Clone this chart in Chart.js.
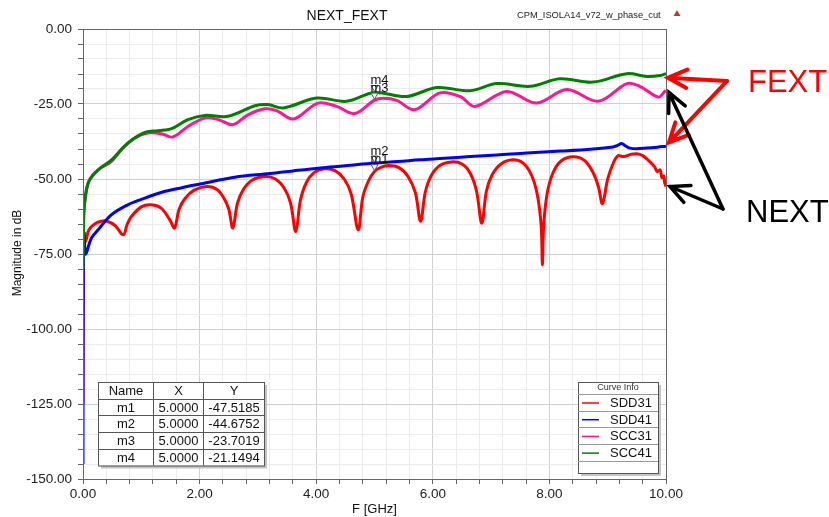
<!DOCTYPE html>
<html>
<head>
<meta charset="utf-8">
<script src="https://cdn.jsdelivr.net/npm/chart.js@4"></script>
<style>
  html, body { margin: 0; padding: 0; background: #fff; }
</style>
</head>
<body>
<canvas id="chart" width="829" height="517"></canvas>
<script>
// SDD31 (NEXT, red)
const sdd31F  = [0, 0.01, 0.05, 0.1, 0.2, 0.31, 0.4, 0.55, 0.69, 0.76, 0.83, 1.0, 1.17, 1.34, 1.49, 1.57, 1.65, 1.75, 1.9, 2.12, 2.3, 2.42, 2.5, 2.57, 2.65, 2.75, 2.9, 3.12, 3.3, 3.45, 3.56, 3.65, 3.73, 3.83, 3.97, 4.15, 4.33, 4.48, 4.6, 4.72, 4.8, 4.9, 5.0, 5.1, 5.24, 5.42, 5.57, 5.7, 5.79, 5.87, 5.97, 6.12, 6.32, 6.5, 6.64, 6.75, 6.84, 6.92, 7.02, 7.17, 7.37, 7.55, 7.7, 7.8, 7.86, 7.88, 7.9, 7.96, 8.06, 8.2, 8.41, 8.6, 8.74, 8.84, 8.91, 9.0, 9.1, 9.18, 9.25, 9.32, 9.4, 9.5, 9.6, 9.7, 9.8, 9.85, 9.9, 9.93, 9.96, 9.98, 10];
const sdd31Db = [-125, -72, -70.5, -67, -65, -64.1, -64, -65.5, -68.6, -65, -62.5, -59.3, -58.6, -59.7, -63.6, -66.3, -60, -56.5, -53.8, -52.5, -53.5, -56.5, -60, -66.3, -58, -53.5, -50.4, -49.2, -50, -53, -58, -67.5, -57, -51.2, -47.8, -46.6, -47.3, -50, -55, -66.9, -56, -50.5, -47.5, -46.2, -45.5, -46.2, -49, -54.5, -64.1, -54.5, -49, -45.5, -44.3, -45, -48, -54, -64.7, -54, -48.5, -45, -43.6, -44.7, -49, -56, -66, -78.6, -66, -55, -48, -44, -42.6, -43.8, -47.5, -52.5, -58.2, -50, -44.5, -42.2, -42.5, -42.3, -41.8, -41.6, -42.2, -43.8, -45.8, -47.5, -47, -49.5, -49, -51.5, -52.5];

// SDD41 (NEXT, blue)
const sdd41F  = [0, 0.005, 0.02, 0.04, 0.07, 0.1, 0.15, 0.26, 0.49, 0.77, 1.0, 1.34, 1.7, 2.03, 2.6, 3.21, 3.6, 4.07, 4.5, 5.0, 5.4, 5.78, 6.2, 6.64, 7.1, 7.61, 8.2, 8.75, 9.09, 9.17, 9.24, 9.3, 9.38, 9.5, 9.67, 9.85, 10];
const sdd41Db = [-145, -80, -68, -75, -74, -72, -69.5, -66.9, -61.9, -58.6, -56.8, -54.5, -52.9, -51.6, -49.4, -48.2, -47.3, -46.3, -45.6, -44.68, -44.2, -43.6, -43.1, -42.5, -42, -41.3, -40.7, -40, -39.3, -38.8, -38.2, -38.9, -39.7, -39.9, -39.7, -39.4, -39.1];

// SCC31 (FEXT, pink)
const scc31F  = [0, 0.01, 0.03, 0.09, 0.17, 0.31, 0.49, 0.66, 0.89, 1.11, 1.34, 1.54, 1.8, 2.09, 2.32, 2.57, 2.83, 3.12, 3.32, 3.61, 4.03, 4.35, 4.66, 5.0, 5.15, 5.38, 5.69, 6.12, 6.47, 6.72, 7.27, 7.78, 8.3, 8.84, 9.33, 9.55, 9.87, 9.98, 10];
const scc31Db = [-72, -64, -58, -51.3, -48.6, -46.3, -44.1, -40.2, -36.3, -34.7, -34.9, -36, -32.5, -29.7, -30.2, -31.9, -28.6, -26.6, -27.2, -30, -24.7, -25.8, -28.2, -23.7, -23.1, -23.8, -26.9, -21.3, -22.5, -25.8, -20.8, -24.7, -20.2, -24.1, -18.2, -19.1, -22.7, -20.8, -20.5];

// SCC41 (FEXT, green)
const scc41F  = [0, 0.01, 0.02, 0.09, 0.26, 0.49, 0.77, 1.06, 1.29, 1.51, 1.8, 2.09, 2.49, 2.95, 3.17, 3.44, 4.01, 4.52, 5.0, 5.55, 6.07, 6.64, 7.1, 7.67, 8.18, 8.75, 9.33, 9.67, 9.9, 10];
const scc41Db = [-80, -65, -59, -51.3, -46.9, -43.6, -38, -34.5, -33.9, -33.3, -30.2, -28.8, -29.1, -25.6, -25.2, -26.3, -23, -24.1, -21.15, -22.5, -19.5, -20.6, -18.2, -19.1, -16.6, -17.7, -14.9, -15.8, -15.5, -14.9];

// markers
const markerNames = ['m1', 'm2', 'm3', 'm4'];
const markerX = [5.0, 5.0, 5.0, 5.0];
const markerY = [-47.5185, -44.6752, -23.7019, -21.1494];

const xTicksMajor = 2;
const yTicksMajor = 25;

const FONT = "'Liberation Sans', Arial, sans-serif";

function pts(f, d) { return f.map((x, i) => ({ x: x, y: d[i] })); }
function isMajor(v, step) { return Math.abs(v / step - Math.round(v / step)) < 1e-6; }

const series = [
  { label: 'SDD31', data: pts(sdd31F, sdd31Db), borderColor: '#ff0000', order: 4 },
  { label: 'SDD41', data: pts(sdd41F, sdd41Db), borderColor: '#0000ff', order: 3 },
  { label: 'SCC31', data: pts(scc31F, scc31Db), borderColor: '#ff1493', order: 2 },
  { label: 'SCC41', data: pts(scc41F, scc41Db), borderColor: '#008000', order: 1 }
];

function arrow(ctx, x1, y1, x2, y2, color, w) {
  // line from (x1,y1) to tip (x2,y2) with head
  const a = Math.atan2(y2 - y1, x2 - x1);
  const len = 21, spread = 0.45;
  ctx.strokeStyle = color;
  ctx.lineWidth = w;
  ctx.lineCap = 'round';
  ctx.beginPath();
  ctx.moveTo(x1, y1); ctx.lineTo(x2, y2);
  ctx.moveTo(x2 - len * Math.cos(a - spread), y2 - len * Math.sin(a - spread));
  ctx.lineTo(x2, y2);
  ctx.lineTo(x2 - len * Math.cos(a + spread), y2 - len * Math.sin(a + spread));
  ctx.stroke();
}

function shadowBox(ctx, x, y, w, h) {
  ctx.fillStyle = '#c4c4c4';
  ctx.fillRect(x + 3, y + 3, w, h);
  ctx.fillStyle = '#fff';
  ctx.fillRect(x, y, w, h);
  ctx.strokeStyle = '#555';
  ctx.lineWidth = 1;
  ctx.strokeRect(x + 0.5, y + 0.5, w, h);
}

const decor = {
  id: 'decor',
  beforeDraw(chart) {
    const ctx = chart.ctx;
    ctx.save();
    ctx.fillStyle = '#fff';
    ctx.fillRect(0, 0, chart.width, chart.height);
    ctx.restore();
  },
  afterDraw(chart) {
    const ctx = chart.ctx;
    const a = chart.chartArea;
    const xs = chart.scales.x, ys = chart.scales.y;
    ctx.save();

    // frame
    ctx.strokeStyle = '#666';
    ctx.lineWidth = 1;
    ctx.strokeRect(a.left + 0.5, a.top + 0.5, a.right - a.left, a.bottom - a.top);

    // titles
    ctx.fillStyle = '#111';
    ctx.textAlign = 'center';
    ctx.textBaseline = 'alphabetic';
    ctx.font = '14px ' + FONT;
    ctx.fillText('NEXT_FEXT', 347, 19.5);
    ctx.font = '13px ' + FONT;
    ctx.fillText('F [GHz]', (a.left + a.right) / 2, 513);
    ctx.save();
    ctx.translate(21, 253);
    ctx.rotate(-Math.PI / 2);
    ctx.font = '12px ' + FONT;
    ctx.fillText('Magnitude in dB', 0, 0);
    ctx.restore();

    ctx.textAlign = 'left';
    ctx.font = '9.3px ' + FONT;
    ctx.fillStyle = '#222';
    ctx.fillText('CPM_ISOLA14_v72_w_phase_cut', 517, 18);
    ctx.fillStyle = '#c0392b';
    ctx.beginPath();
    ctx.moveTo(677, 10); ctx.lineTo(680.5, 16); ctx.lineTo(673.5, 16); ctx.closePath();
    ctx.fill();

    // markers
    markerNames.forEach((n, i) => {
      const px = xs.getPixelForValue(markerX[i]);
      const py = ys.getPixelForValue(markerY[i]);
      ctx.fillStyle = '#fff';
      ctx.strokeStyle = '#555';
      ctx.lineWidth = 1;
      ctx.beginPath();
      ctx.moveTo(px - 3.5, py - 7); ctx.lineTo(px + 3.5, py - 7); ctx.lineTo(px, py - 1); ctx.closePath();
      ctx.fill(); ctx.stroke();
    });
    ctx.fillStyle = '#111';
    ctx.font = '13px ' + FONT;
    ctx.textAlign = 'left';
    markerNames.forEach((n, i) => {
      const px = xs.getPixelForValue(markerX[i]);
      const py = ys.getPixelForValue(markerY[i]);
      ctx.fillText(n, px - 4, py - 8.5);
    });

    // marker table
    const tx = 98, ty = 382, colW = [55, 50, 61], rowH = 16.7;
    const tw = colW[0] + colW[1] + colW[2], th = rowH * 5;
    shadowBox(ctx, tx, ty, tw, th);
    ctx.strokeStyle = '#555';
    ctx.beginPath();
    for (let r = 1; r < 5; r++) {
      const yy = Math.round(ty + r * rowH) + 0.5;
      ctx.moveTo(tx, yy); ctx.lineTo(tx + tw, yy);
    }
    let cx = tx;
    for (let c = 0; c < 2; c++) {
      cx += colW[c];
      ctx.moveTo(Math.round(cx) + 0.5, ty); ctx.lineTo(Math.round(cx) + 0.5, ty + th);
    }
    ctx.stroke();
    ctx.fillStyle = '#111';
    ctx.textAlign = 'center';
    ctx.textBaseline = 'middle';
    ctx.font = '13px ' + FONT;
    const rows = [['Name', 'X', 'Y']].concat(markerNames.map((n, i) => [n, markerX[i].toFixed(4), markerY[i].toFixed(4)]));
    rows.forEach((row, r) => {
      let x0 = tx;
      row.forEach((cell, c) => {
        ctx.fillText(cell, x0 + colW[c] / 2 + 0.5, ty + r * rowH + rowH / 2 + 1);
        x0 += colW[c];
      });
    });

    // curve info legend
    const lx = 578, ly = 382, lw = 80, lh = 91;
    shadowBox(ctx, lx, ly, lw, lh);
    ctx.font = '9px ' + FONT;
    ctx.fillStyle = '#333';
    ctx.fillText('Curve Info', lx + lw / 2, ly + 6);
    ctx.strokeStyle = '#999';
    ctx.beginPath();
    ctx.moveTo(lx, ly + 12.5); ctx.lineTo(lx + lw, ly + 12.5);
    for (let r = 1; r <= 4; r++) {
      const yy = Math.round(ly + 12 + r * 16.7) + 0.5;
      ctx.moveTo(lx, yy); ctx.lineTo(lx + lw, yy);
    }
    ctx.stroke();
    ctx.font = '13px ' + FONT;
    ctx.textAlign = 'left';
    chart.data.datasets.forEach((ds, i) => {
      const yy = ly + 12 + i * 16.7 + 9;
      ctx.strokeStyle = ds.borderColor;
      ctx.lineWidth = 1.5;
      ctx.beginPath();
      ctx.moveTo(lx + 4, yy); ctx.lineTo(lx + 21, yy);
      ctx.stroke();
      ctx.fillStyle = '#111';
      ctx.fillText(ds.label, lx + 32, yy + 0.5);
    });

    // FEXT / NEXT annotations pointing at the curve ends
    const ex = xs.getPixelForValue(10);
    const endY = chart.data.datasets.map(ds => ys.getPixelForValue(ds.data[ds.data.length - 1].y));
    arrow(ctx, 727, 81, ex + 2, endY[3] + 4, '#ff0000', 4);
    arrow(ctx, 727, 81, ex + 3, endY[1] - 4, '#ff0000', 4);
    arrow(ctx, 723, 209, ex + 3, endY[2] + 2, '#000', 3.5);
    arrow(ctx, 723, 209, ex + 4, endY[0], '#000', 3.5);
    ctx.textBaseline = 'alphabetic';
    ctx.textAlign = 'left';
    ctx.font = '31px ' + FONT;
    ctx.fillStyle = '#ff0000';
    ctx.fillText('FEXT', 748, 92);
    ctx.fillStyle = '#000';
    ctx.fillText('NEXT', 746, 222);

    ctx.restore();
  }
};

new Chart(document.getElementById('chart'), {
  type: 'line',
  data: {
    datasets: series.map(s => Object.assign({ fill: false, borderWidth: 3, pointRadius: 0, tension: 0.35 }, s))
  },
  options: {
    responsive: false,
    animation: false,
    devicePixelRatio: 1,
    layout: { padding: { top: 29, right: 163, left: 0, bottom: 0 } },
    plugins: { legend: { display: false }, tooltip: { enabled: false }, title: { display: false } },
    scales: {
      x: {
        type: 'linear', min: 0, max: 10,
        afterFit: s => { s.height = 38; },
        ticks: {
          stepSize: 0.4, autoSkip: false, maxRotation: 0, padding: 2,
          font: { family: FONT, size: 13.5 }, color: '#222',
          callback: v => isMajor(v, xTicksMajor) ? Number(v).toFixed(2) : ''
        },
        grid: {
          color: c => isMajor(c.tick.value, xTicksMajor) ? '#d0d0d0' : '#ececec',
          tickColor: '#666', tickLength: 5
        },
        border: { color: '#666' }
      },
      y: {
        type: 'linear', min: -150, max: 0,
        afterFit: s => { s.width = 83; },
        ticks: {
          stepSize: 5, autoSkip: false, padding: 6,
          font: { family: FONT, size: 13.5 }, color: '#222',
          callback: v => isMajor(v, yTicksMajor) ? Number(v).toFixed(2) : ''
        },
        grid: {
          color: c => isMajor(c.tick.value, yTicksMajor) ? '#d0d0d0' : '#ececec',
          tickColor: '#666', tickLength: 5
        },
        border: { color: '#666' }
      }
    }
  },
  plugins: [decor]
});
</script>
</body>
</html>
